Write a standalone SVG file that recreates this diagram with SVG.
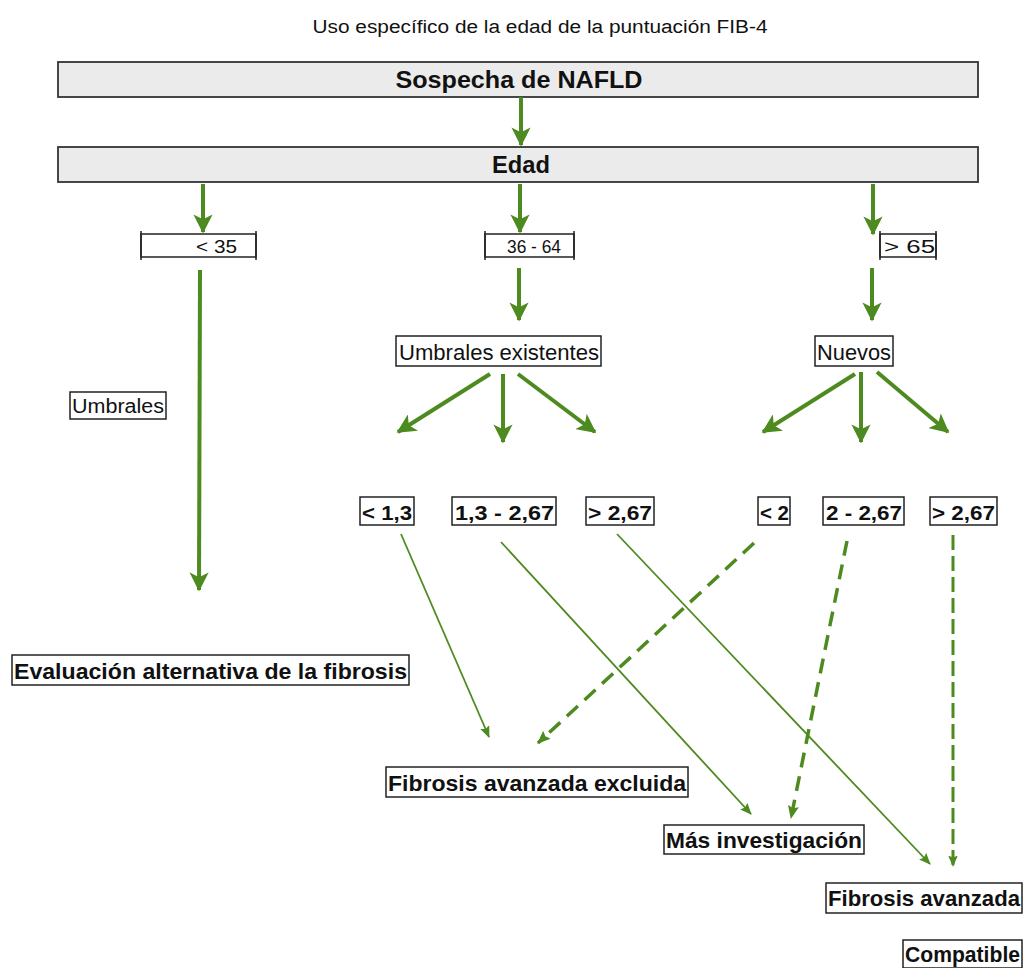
<svg xmlns="http://www.w3.org/2000/svg" width="1030" height="968" viewBox="0 0 1030 968">
<style>
text{font-family:"Liberation Sans Narrow","Liberation Sans",Arial,sans-serif;fill:#111}
.b{font-weight:bold}
.box{fill:#fff;stroke:#222;stroke-width:1.5}
.hdr{fill:#ebebeb;stroke:#333;stroke-width:1.8}
.thick{stroke:#4d8a1f;stroke-width:4;fill:none}
.thin{stroke:#4d8a1f;stroke-width:1.8;fill:none}
.dash{stroke:#4d8a1f;stroke-width:3.5;fill:none;stroke-dasharray:15 9}
.dashv{stroke:#4d8a1f;stroke-width:3;fill:none;stroke-dasharray:15 6}
</style>
<defs>
<marker id="big" viewBox="0 0 12 12" refX="11" refY="6" markerWidth="4.8" markerHeight="4.8" orient="auto" markerUnits="strokeWidth">
<path d="M0,0 L12,6 L0,12 L3,6 z" fill="#4d8a1f"/>
</marker>
<marker id="small" viewBox="0 0 12 12" refX="11" refY="6" markerWidth="6.5" markerHeight="6.5" orient="auto" markerUnits="strokeWidth">
<path d="M0,1 L12,6 L0,11 L2,6 z" fill="#4d8a1f"/>
</marker>
<marker id="mid" viewBox="0 0 12 12" refX="11" refY="6" markerWidth="3.8" markerHeight="3.8" orient="auto" markerUnits="strokeWidth">
<path d="M0,1 L12,6 L0,11 L2,6 z" fill="#4d8a1f"/>
</marker>
</defs>

<text x="540" y="33" font-size="18" text-anchor="middle" textLength="455" lengthAdjust="spacingAndGlyphs">Uso específico de la edad de la puntuación FIB-4</text>

<g id="nafld">
<rect class="hdr" x="58" y="62" width="920" height="35"/>
<text class="b" x="519" y="88" font-size="24" text-anchor="middle" textLength="247" lengthAdjust="spacingAndGlyphs">Sospecha de NAFLD</text>
</g>
<g id="edad">
<rect class="hdr" x="58" y="147" width="920" height="35"/>
<text class="b" x="521" y="173" font-size="24" text-anchor="middle" textLength="58" lengthAdjust="spacingAndGlyphs">Edad</text>
</g>

<g id="r35">
<rect class="box" x="141" y="234" width="115" height="23"/>
<path d="M141,231V260M256,231V260" stroke="#222" stroke-width="1.5"/>
<text x="196" y="253" font-size="19" textLength="41" lengthAdjust="spacingAndGlyphs">&lt; 35</text>
</g>
<g id="r3664">
<rect class="box" x="485" y="234" width="89" height="23"/>
<path d="M485,231V260M574,231V260" stroke="#222" stroke-width="1.5"/>
<text x="507" y="253" font-size="19" textLength="54" lengthAdjust="spacingAndGlyphs">36 - 64</text>
</g>
<g id="r65">
<rect class="box" x="880" y="234" width="56" height="23"/>
<path d="M880,231V260M936,231V260" stroke="#222" stroke-width="1.5"/>
<text x="884" y="253" font-size="19" textLength="51" lengthAdjust="spacingAndGlyphs">&gt; 65</text>
</g>

<g id="umbrales">
<rect class="box" x="70" y="392" width="96" height="27"/>
<text x="72" y="413" font-size="20" textLength="92" lengthAdjust="spacingAndGlyphs">Umbrales</text>
</g>
<g id="existentes">
<rect class="box" x="396" y="336" width="205" height="30"/>
<text x="399" y="360" font-size="22" textLength="200" lengthAdjust="spacingAndGlyphs">Umbrales existentes</text>
</g>
<g id="nuevos">
<rect class="box" x="815" y="336" width="78" height="30"/>
<text x="817" y="360" font-size="22" textLength="74" lengthAdjust="spacingAndGlyphs">Nuevos</text>
</g>

<g id="t1"><rect class="box" x="360" y="497" width="54" height="28"/><text class="b" x="362" y="520" font-size="21" textLength="50" lengthAdjust="spacingAndGlyphs">&lt; 1,3</text></g>
<g id="t2"><rect class="box" x="452" y="497" width="104" height="28"/><text class="b" x="455" y="520" font-size="21" textLength="99" lengthAdjust="spacingAndGlyphs">1,3 - 2,67</text></g>
<g id="t3"><rect class="box" x="586" y="497" width="68" height="28"/><text class="b" x="588" y="520" font-size="21" textLength="64" lengthAdjust="spacingAndGlyphs">&gt; 2,67</text></g>
<g id="t4"><rect class="box" x="758" y="497" width="32" height="28"/><text class="b" x="760" y="520" font-size="21" textLength="29" lengthAdjust="spacingAndGlyphs">&lt; 2</text></g>
<g id="t5"><rect class="box" x="823" y="497" width="81" height="28"/><text class="b" x="826" y="520" font-size="21" textLength="76" lengthAdjust="spacingAndGlyphs">2 - 2,67</text></g>
<g id="t6"><rect class="box" x="930" y="497" width="67" height="28"/><text class="b" x="932" y="520" font-size="21" textLength="63" lengthAdjust="spacingAndGlyphs">&gt; 2,67</text></g>

<g id="alt"><rect class="box" x="12" y="655" width="397" height="30"/><text class="b" x="14" y="679" font-size="22" textLength="393" lengthAdjust="spacingAndGlyphs">Evaluación alternativa de la fibrosis</text></g>
<g id="excl"><rect class="box" x="386" y="767" width="302" height="30"/><text class="b" x="388" y="791" font-size="22" textLength="298" lengthAdjust="spacingAndGlyphs">Fibrosis avanzada excluida</text></g>
<g id="mas"><rect class="box" x="664" y="825" width="200" height="29"/><text class="b" x="666" y="848" font-size="22" textLength="196" lengthAdjust="spacingAndGlyphs">Más investigación</text></g>
<g id="avz"><rect class="box" x="826" y="883" width="196" height="30"/><text class="b" x="828" y="906" font-size="22" textLength="192" lengthAdjust="spacingAndGlyphs">Fibrosis avanzada</text></g>
<g id="comp"><rect class="box" x="903" y="940" width="119" height="28"/><text class="b" x="905" y="962" font-size="22" textLength="115" lengthAdjust="spacingAndGlyphs">Compatible</text></g>

<g id="connectors">
<line class="thick" x1="521" y1="97" x2="521" y2="145" marker-end="url(#big)"/>
<line class="thick" x1="203" y1="184" x2="203" y2="232" marker-end="url(#big)"/>
<line class="thick" x1="520" y1="184" x2="520" y2="232" marker-end="url(#big)"/>
<line class="thick" x1="873" y1="184" x2="873" y2="234" marker-end="url(#big)"/>
<line class="thick" x1="200" y1="270" x2="199" y2="590" marker-end="url(#big)"/>
<line class="thick" x1="519" y1="268" x2="519" y2="320" marker-end="url(#big)"/>
<line class="thick" x1="872" y1="268" x2="872" y2="320" marker-end="url(#big)"/>
<line class="thick" x1="490" y1="374" x2="398" y2="432" marker-end="url(#big)"/>
<line class="thick" x1="503" y1="374" x2="503" y2="442" marker-end="url(#big)"/>
<line class="thick" x1="518" y1="374" x2="595" y2="432" marker-end="url(#big)"/>
<line class="thick" x1="855" y1="374" x2="763" y2="432" marker-end="url(#big)"/>
<line class="thick" x1="861" y1="372" x2="861" y2="442" marker-end="url(#big)"/>
<line class="thick" x1="877" y1="372" x2="948" y2="432" marker-end="url(#big)"/>
<line class="thin" x1="401" y1="534" x2="489" y2="737" marker-end="url(#small)"/>
<line class="thin" x1="501" y1="542" x2="751" y2="814" marker-end="url(#small)"/>
<line class="thin" x1="617" y1="534" x2="930" y2="864" marker-end="url(#small)"/>
<line class="dash" x1="754" y1="543" x2="538" y2="743" marker-end="url(#mid)"/>
<line class="dash" x1="847" y1="541" x2="791" y2="818" marker-end="url(#mid)"/>
<line class="dashv" x1="953" y1="535" x2="953" y2="866" marker-end="url(#mid)"/>
</g>
</svg>
